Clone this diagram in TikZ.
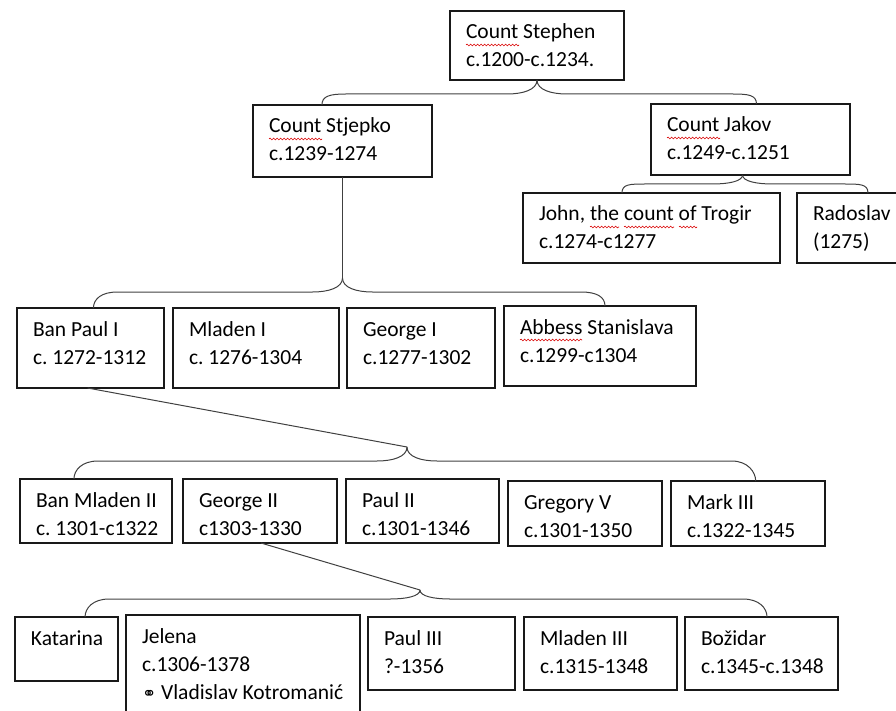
\documentclass[tikz,border=0pt]{standalone}
\usepackage{fontspec}
\setmainfont{Carlito}
\newfontfamily\marriagefont{DejaVu Sans}
\usetikzlibrary{calc}
\usetikzlibrary{decorations.pathmorphing}

\tikzset{
  person/.style 2 args={draw=black!90, line width=1.1pt, anchor=north west,
    inner sep=0pt, outer sep=0pt, align=left, text width=#1pt,
    text height=28pt, text depth=#2pt,
    execute at begin node={\leftskip=16pt\spaceskip=0pt\xspaceskip=0pt\frenchspacing}},
  kin/.style={draw=black!75, line width=1pt},
  spell/.style={draw=red!85!black, line width=0.6pt, decorate,
    decoration={snake, amplitude=0.9pt, segment length=3.5pt}}
}

\newcommand{\kinbrace}[4]{%
  \coordinate (kb) at ($(#1)+(0,#4)$);
  \draw[kin] (#1) .. controls +(0,0.7*#4) and +(16,0) .. ($(kb)+(-30,0)$)
    -- ($(#2|-kb)+(24,0)$) .. controls +(-16,0) and +(0,-9) .. (#2);
  \draw[kin] (#1) .. controls +(0,0.7*#4) and +(-16,0) .. ($(kb)+(30,0)$)
    -- ($(#3|-kb)+(-24,0)$) .. controls +(16,0) and +(0,-9) .. (#3);
}

\begin{document}
\begin{tikzpicture}[x=1pt,y=-1pt,node font=\fontsize{21.5}{28}\selectfont]
  \useasboundingbox (0,0) rectangle (896,711);

  \node[person={174}{41}] (st) at (450,11) {Count Stephen\\c.1200-c.1234.};

  \node[person={179}{44}] (sj) at (253,105) {Count Stjepko\\c.1239-1274};
  \node[person={199}{43}] (jk) at (651,104) {Count Jakov\\c.1249-c.1251};
  \node[person={257}{42}] (jo) at (523,193) {John, the count of Trogir\\c.1274-c1277};
  \node[person={115}{42}] (ra) at (797,193) {Radoslav\\(1275)};

  \node[person={147}{52}] (bp) at (17,308) {Ban Paul I\\c. 1272-1312};
  \node[person={166}{52}] (m1) at (173,308) {Mladen I\\c. 1276-1304};
  \node[person={148}{52}] (g1) at (347,308) {George I\\c.1277-1302};
  \node[person={192}{52}] (ab) at (504,306) {Abbess Stanislava\\c.1299-c1304};

  \node[person={152}{36}] (bm) at (20,479) {Ban Mladen II\\c. 1301-c1322};
  \node[person={154}{36}] (g2) at (183,479) {George II\\c1303-1330};
  \node[person={153}{36}] (p2) at (346,479) {Paul II\\c.1301-1346};
  \node[person={154}{37}] (gr) at (508,481) {Gregory V\\c.1301-1350};
  \node[person={154}{37}] (mk) at (671,481) {Mark III\\c.1322-1345};

  \node[person={103}{36}] (ka) at (15,617) {Katarina};
  \node[person={234}{82}] (je) at (126,615) {Jelena\\c.1306-1378\\{\marriagefont\fontsize{17}{17}\selectfont ⚭} Vladislav Kotromanić};
  \node[person={147}{45}] (p3) at (368,617) {Paul III\\?-1356};
  \node[person={153}{45}] (m3) at (524,617) {Mladen III\\c.1315-1348};
  \node[person={153}{45}] (bo) at (685,617) {Božidar\\c.1345-c.1348};

  \coordinate (sjT) at ($(sj.north west)!0.385!(sj.north east)$);
  \coordinate (jkT) at ($(jk.north west)!0.53!(jk.north east)$);
  \coordinate (jkB) at ($(jk.south west)!0.46!(jk.south east)$);
  \coordinate (joT) at ($(jo.north west)!0.385!(jo.north east)$);
  \coordinate (raT) at ($(ra.north west)!0.617!(ra.north east)$);
  \coordinate (sjX) at ($(sj.south)+(0,101)$);
  \coordinate (bpT) at ($(bp.north west)!0.52!(bp.north east)$);
  \coordinate (abT) at ($(ab.north west)!0.526!(ab.north east)$);
  \coordinate (bpB) at ($(bp.south west)!0.48!(bp.south east)$);
  \coordinate (pX) at (407,447);
  \coordinate (bmT) at ($(bm.north west)!0.355!(bm.north east)$);
  \coordinate (mkT) at ($(mk.north west)!0.55!(mk.north east)$);
  \coordinate (g2B) at ($(g2.south west)!0.506!(g2.south east)$);
  \coordinate (gX) at (420,590);
  \coordinate (kaT) at ($(ka.north west)!0.68!(ka.north east)$);
  \coordinate (boT) at ($(bo.north west)!0.536!(bo.north east)$);

  \kinbrace{st.south}{sjT}{jkT}{14}
  \kinbrace{jkB}{joT}{raT}{9}
  \draw[kin] (sj.south) -- (sjX);
  \kinbrace{sjX}{bpT}{abT}{14}
  \draw[kin] (bpB) -- (pX);
  \kinbrace{pX}{bmT}{mkT}{14}
  \draw[kin] (g2B) -- (gX);
  \kinbrace{gX}{kaT}{boT}{9}

  \draw[spell] ($(st.north west)+(16,34)$) -- ++(53,0);
  \draw[spell] ($(sj.north west)+(16,34)$) -- ++(53,0);
  \draw[spell] ($(jk.north west)+(16,34)$) -- ++(53,0);
  \draw[spell] ($(jo.north west)+(67,34)$) -- ++(29,0);
  \draw[spell] ($(jo.north west)+(101,34)$) -- ++(50,0);
  \draw[spell] ($(jo.north west)+(156,34)$) -- ++(18,0);
  \draw[spell] ($(ab.north west)+(16,34)$) -- ++(62,0);
\end{tikzpicture}
\end{document}
